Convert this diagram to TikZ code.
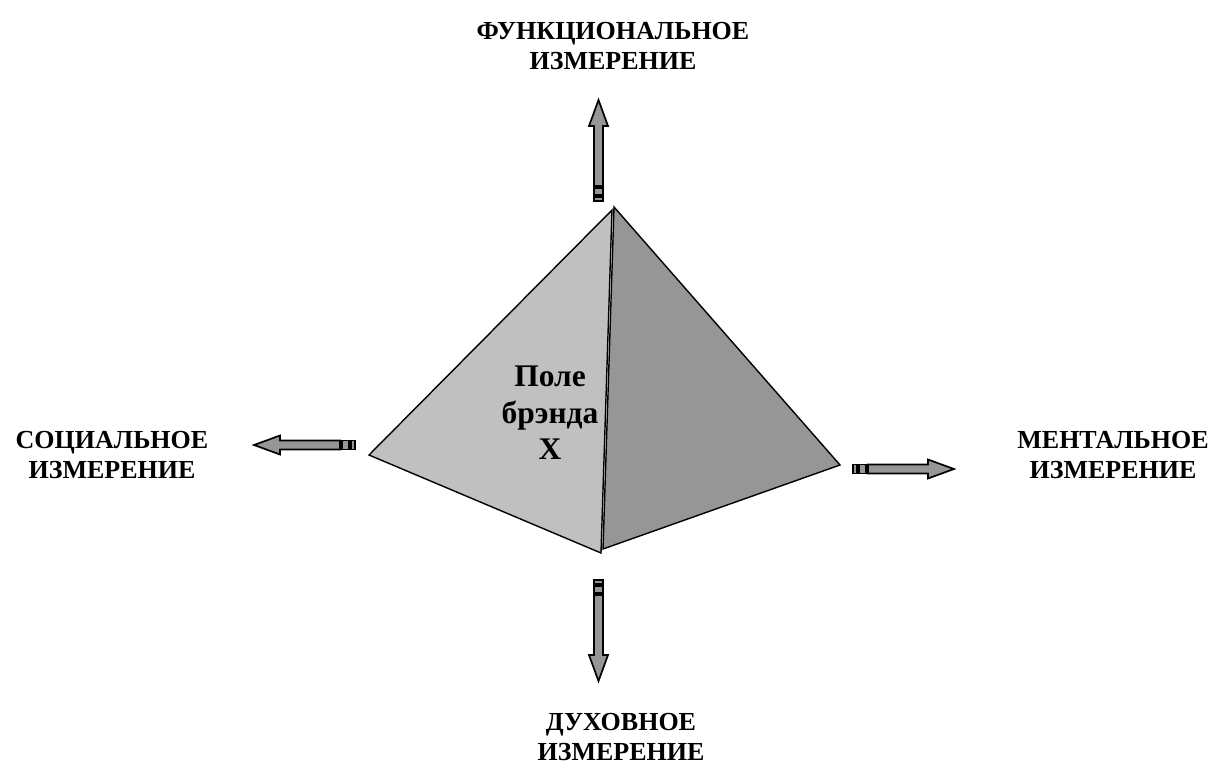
\documentclass[tikz,border=0pt]{standalone}
\usepackage{fontspec}
\setmainfont{Liberation Serif}
\definecolor{lightface}{HTML}{C0C0C0}
\definecolor{darkface}{HTML}{969696}
\tikzset{
  face/.style={draw=black, line width=1.4pt, line join=miter},
  arrowpart/.style={draw=black, fill=darkface, line width=1.7pt, line join=miter},
  lbl/.style={align=center, font=\fontsize{26}{30.5}\selectfont\bfseries, inner sep=0pt},
  centertext/.style={align=center, font=\fontsize{31.5}{36.5}\selectfont\bfseries, inner sep=0pt}
}
\newcommand{\stripedarrow}[3]{%
  \begin{scope}[shift={(#1,#2)}, rotate=#3]
    \draw[arrowpart] (0,-4.5) rectangle (4,4.5);
    \draw[arrowpart] (6,-4.5) rectangle (13,4.5);
    \draw[arrowpart] (15,-4.5) -- (75,-4.5) -- (75,-9.5) -- (101,0) -- (75,9.5) -- (75,4.5) -- (15,4.5) -- cycle;
  \end{scope}}
\begin{document}
\begin{tikzpicture}[x=1pt,y=-1pt]
\useasboundingbox (0,0) rectangle (1218,766);
% pyramid faces
\coordinate (lt) at (612,210);
\coordinate (ll) at (369,455);
\coordinate (lb) at (601,553);
\coordinate (rt) at (614,207);
\coordinate (rr) at (840,465);
\coordinate (rb) at (603,549);
\draw[face, fill=lightface] (lt) -- (ll) -- (lb) -- cycle;
\draw[face, fill=darkface] (rt) -- (rr) -- (rb) -- cycle;
% arrows
\stripedarrow{598.5}{201}{90}
\stripedarrow{355}{445}{180}
\stripedarrow{853}{469}{0}
\stripedarrow{598.5}{580}{-90}
% labels
\node[lbl] (top) at (613,46) {ФУНКЦИОНАЛЬНОЕ\\ИЗМЕРЕНИЕ};
\node[lbl] (left) at (112,455) {СОЦИАЛЬНОЕ\\ИЗМЕРЕНИЕ};
\node[lbl] (right) at (1113,455) {МЕНТАЛЬНОЕ\\ИЗМЕРЕНИЕ};
\node[lbl] (bottom) at (621,737) {ДУХОВНОЕ\\ИЗМЕРЕНИЕ};
\node[centertext] (field) at (550,413) {Поле\\брэнда\\X};
\end{tikzpicture}
\end{document}
